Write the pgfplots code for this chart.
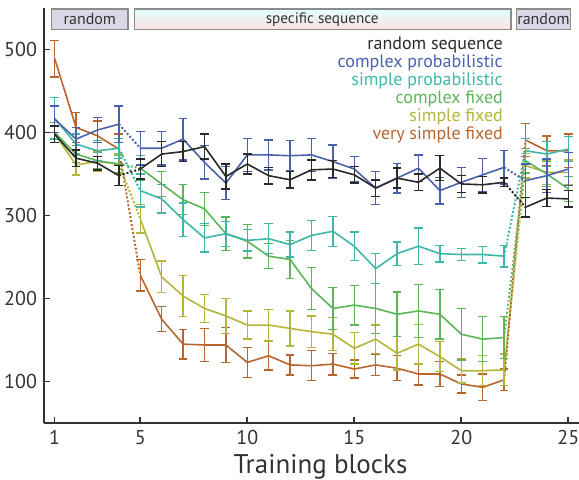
\documentclass[border=0pt]{standalone}
\usepackage{pgfplots}
\pgfplotsset{compat=1.18}
\usepackage{pgfplotstable}
\usepackage{fontspec}
\setmainfont{PT Sans}

\definecolor{cblack}{HTML}{2A2A2A}
\definecolor{cblue}{HTML}{4A62AB}
\definecolor{cteal}{HTML}{3DB8A8}
\definecolor{cgreen}{HTML}{5DB55A}
\definecolor{cyellow}{HTML}{B3B63A}
\definecolor{corange}{HTML}{B8652F}
\definecolor{axisgray}{HTML}{333333}
\definecolor{boxfill}{HTML}{D8D8E6}
\definecolor{boxline}{HTML}{8C8C8C}

% block, mean, error
\pgfplotstableread{
x y e
1 489 22
2 406 18
3 396 18
4 380 18
5 228 19
6 175 15
7 145 18
8 144 20
9 144 21
10 123 18
11 131 17
12 120 12
13 119 18
14 121 13
15 115 11
16 120 13
17 116 15
18 109 13
19 109 15
20 97 11
21 93 16
22 102 13
23 391 20
24 378 18
25 378 20
}\verysimple

\pgfplotstableread{
x y e
1 398 10
2 361 12
3 365 12
4 362 12
5 296 17
6 226 19
7 203 25
8 188 17
9 179 21
10 168 17
11 168 19
12 164 21
13 160 19
14 157 20
15 140 19
16 151 17
17 134 20
18 145 24
19 130 18
20 113 15
21 113 18
22 114 19
23 360 15
24 352 15
25 352 15
}\simplefixed

\pgfplotstableread{
x y e
1 400 12
2 374 10
3 366 10
4 362 10
5 357 15
6 338 15
7 319 18
8 308 20
9 278 20
10 269 20
11 251 15
12 247 23
13 212 25
14 188 25
15 192 24
16 188 30
17 181 27
18 185 32
19 181 30
20 157 31
21 151 27
22 153 25
23 366 15
24 350 15
25 332 15
}\complexfixed

\pgfplotstableread{
x y e
1 417 25
2 386 12
3 378 12
4 381 12
5 330 20
6 320 17
7 295 20
8 273 17
9 278 15
10 270 13
11 272 18
12 265 15
13 276 18
14 281 18
15 263 17
16 236 18
17 254 14
18 263 22
19 254 10
20 253 7
21 253 10
22 251 13
23 378 15
24 374 15
25 380 15
}\simpleprob

\pgfplotstableread{
x y e
1 416 16
2 392 14
3 403 15
4 410 22
5 381 20
6 381 20
7 392 25
8 364 20
9 339 20
10 373 20
11 373 18
12 372 18
13 373 20
14 365 20
15 356 15
16 333 20
17 345 18
18 357 16
19 330 16
20 340 18
21 349 20
22 358 20
23 342 20
24 348 20
25 356 20
}\complexprob

\pgfplotstableread{
x y e
1 398 10
2 369 10
3 363 8
4 348 12
5 356 12
6 374 15
7 377 12
8 383 15
9 347 15
10 362 12
11 348 10
12 343 10
13 355 12
14 356 10
15 349 10
16 333 10
17 345 12
18 340 10
19 357 15
20 338 10
21 337 10
22 340 5
23 310 12
24 321 10
25 320 10
}\randomseq

% one solid piece with error bars
\newcommand{\seg}[4]{%
  \addplot[#2, line width=0.8pt, restrict x to domain=#3:#4,
    error bars/.cd, y dir=both, y explicit,
    error bar style={line width=0.7pt},
    error mark options={rotate=90, mark size=2.2pt, line width=0.7pt, #2}]
    table[x=x, y=y, y error=e]{#1};}
% whole series: three blocks joined by dotted lines
\newcommand{\series}[2]{%
  \addplot[#2, densely dotted, line width=1pt, restrict x to domain=4:5] table[x=x, y=y]{#1};
  \addplot[#2, densely dotted, line width=1pt, restrict x to domain=22:23] table[x=x, y=y]{#1};
  \seg{#1}{#2}{1}{4}
  \seg{#1}{#2}{5}{22}
  \seg{#1}{#2}{23}{25}}

\begin{document}
\begin{tikzpicture}
\begin{axis}[
    scale only axis,
    width=267.5pt, height=207.5pt,
    xmin=0.5, xmax=25.5,
    ymin=50, ymax=550,
    axis x line=bottom, axis y line=left,
    axis line style={-, axisgray, line width=0.9pt},
    tick align=inside,
    major tick length=3pt,
    tick style={axisgray, line width=0.8pt},
    xtick={1,5,10,15,20,25},
    ytick={100,200,300,400,500},
    ticklabel style={font=\fontsize{10}{11}\selectfont, text=axisgray},
    /pgf/number format/assume math mode=true,
    xlabel={Training blocks},
    xlabel style={font=\fontsize{13.5}{14}\selectfont, text=axisgray,
      at={(axis description cs:0.5,0)}, anchor=center, yshift=-22pt, xshift=4.5pt},
    clip=false,
    mark=none,
]
\series{\verysimple}{corange}
\series{\simplefixed}{cyellow}
\series{\complexfixed}{cgreen}
\series{\simpleprob}{cteal}
\series{\complexprob}{cblue}
\series{\randomseq}{cblack}

% phase bands at the top
\draw[boxline, line width=0.7pt, fill=boxfill] (axis cs:0.86,524) rectangle (axis cs:4.42,549);
\node[font=\fontsize{8}{9}\selectfont, text=axisgray] at (axis cs:2.64,536.5) {random};
\shade[top color=cyan!12, middle color=yellow!12, bottom color=red!12] (axis cs:4.74,524) rectangle (axis cs:22.33,549);
\draw[boxline, line width=0.7pt] (axis cs:4.74,524) rectangle (axis cs:22.33,549);
\node[font=\fontsize{7.6}{9}\selectfont, text=axisgray] at (axis cs:13.5,536.5) {specific sequence};
\draw[boxline, line width=0.7pt, fill=boxfill] (axis cs:22.57,524) rectangle (axis cs:25.1,549);
\node[font=\fontsize{8}{9}\selectfont, text=axisgray] at (axis cs:23.84,536.5) {random};

% legend as coloured text
\begin{scope}[every node/.style={anchor=base east, font=\fontsize{9}{10}\selectfont, inner sep=0pt}]
\node[text=cblack]  at (axis cs:21.96,500) {random sequence};
\node[text=cblue]   at (axis cs:21.96,478.4) {complex probabilistic};
\node[text=cteal]   at (axis cs:21.96,456.8) {simple probabilistic};
\node[text=cgreen]  at (axis cs:21.96,435.2) {complex fixed};
\node[text=cyellow] at (axis cs:21.96,413.6) {simple fixed};
\node[text=corange] at (axis cs:21.96,392) {very simple fixed};
\end{scope}

\coordinate (bl) at (rel axis cs:0,0);
\coordinate (tr) at (rel axis cs:1,1);
\end{axis}
\pgfresetboundingbox
\path ([shift={(-22pt,-28.5pt)}]bl) rectangle ([shift={(0pt,4pt)}]tr);
\end{tikzpicture}
\end{document}
